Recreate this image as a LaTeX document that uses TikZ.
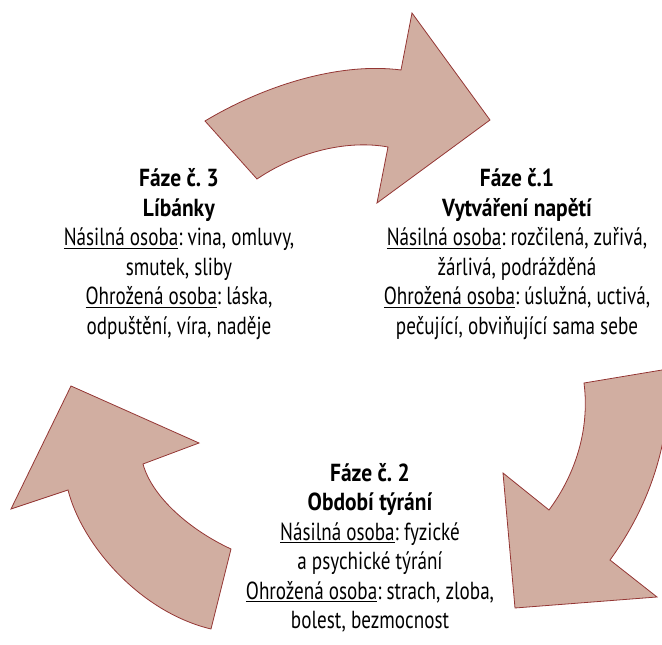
\documentclass[tikz,border=0pt]{standalone}
\usepackage{fontspec}
\setmainfont{PT Sans}[FakeStretch=0.775,BoldFeatures={FakeStretch=0.87}]
\usepackage{xcolor}
\usetikzlibrary{positioning}
\definecolor{sipkafill}{RGB}{209,174,161}
\definecolor{sipkaline}{RGB}{148,54,52}
\frenchspacing

\begin{document}
\begin{tikzpicture}[x=0.75pt,y=-0.75pt,
    sipka/.style={fill=sipkafill,draw=sipkaline,line width=0.6pt,line join=miter},
    faze/.style={align=center,inner sep=0pt,font={\fontsize{18.5}{22.1}\selectfont}}]
            \clip (0,0) rectangle (662,645);

            % horni sipka (faze 3 -> faze 1)
            \draw[sipka] (205,121) .. controls (265,85) and (340,62) .. (401,70) -- (412,13) -- (490,120)
                -- (377,203) -- (388,147) .. controls (350,140) and (300,150) .. (257,179) -- cycle;
            % prava sipka (faze 1 -> faze 2)
            \draw[sipka] (584,383) -- (668,369) .. controls (672,440) and (650,505) .. (610,560) -- (657,597)
                -- (515,608) -- (503,473) -- (549,510) .. controls (575,475) and (590,430) .. (584,383) -- cycle;
            % leva sipka (faze 2 -> faze 3)
            \draw[sipka] (231,549) -- (211,629) .. controls (140,612) and (82,545) .. (68,490) -- (11,509)
                -- (71,386) -- (199,443) -- (143,464) .. controls (152,497) and (190,530) .. (231,549) -- cycle;

            \node[faze] (faze1) at (517,254) {\textbf{Fáze č.1}\\ \textbf{Vytváření napětí}\\
                \underline{Násilná osoba}: rozčilená, zuřivá,\\ žárlivá, podrážděná\\
                \underline{Ohrožená osoba}: úslužná, uctivá,\\ pečující, obviňující sama sebe};
            \node[faze] (faze2) at (370,548) {\textbf{Fáze č. 2}\\ \textbf{Období týrání}\\
                \underline{Násilná osoba}: fyzické\\ a psychické týrání\\
                \underline{Ohrožená osoba}: strach, zloba,\\ bolest, bezmocnost};
            \node[faze] (faze3) at (179,254) {\textbf{Fáze č. 3}\\ \textbf{Líbánky}\\
                \underline{Násilná osoba}: vina, omluvy,\\ smutek, sliby\\
                \underline{Ohrožená osoba}: láska,\\ odpuštění, víra, naděje};
\end{tikzpicture}
\end{document}
